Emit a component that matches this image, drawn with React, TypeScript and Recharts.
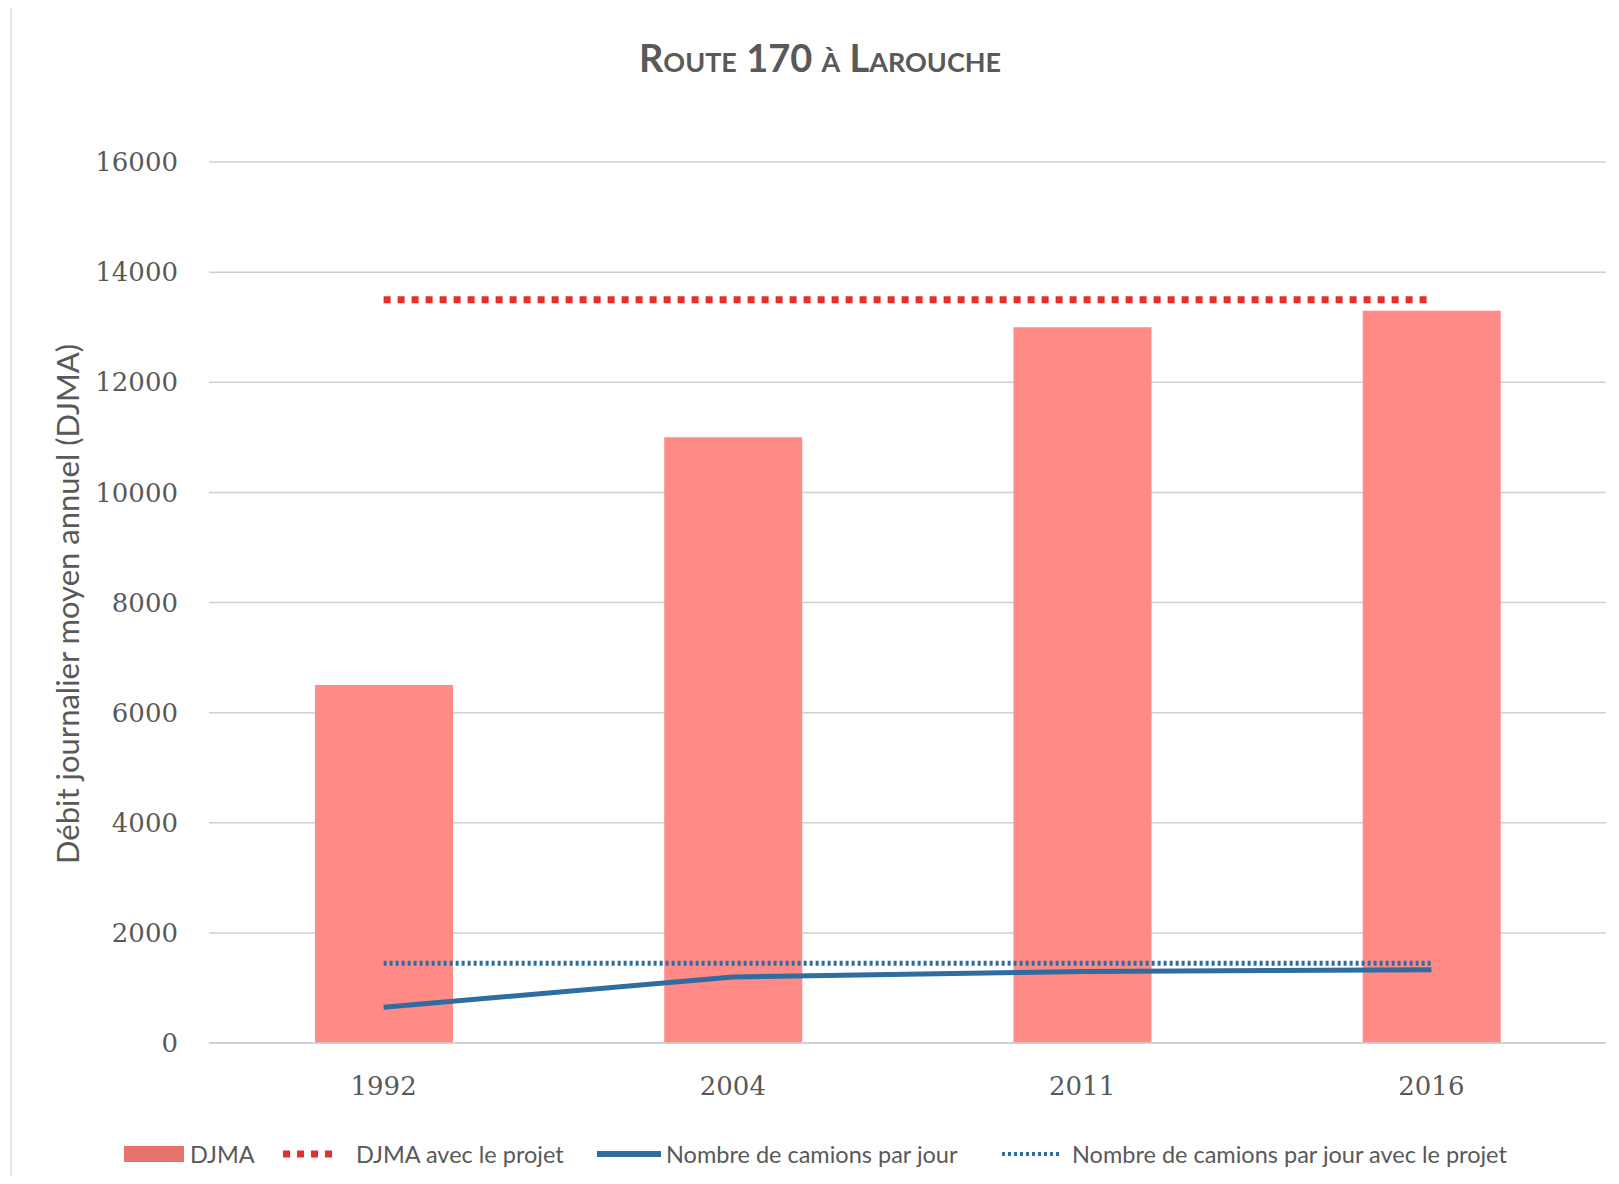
import React from "react";
import {
  ComposedChart,
  Bar,
  Line,
  XAxis,
  YAxis,
  CartesianGrid,
} from "recharts";

// valeurs
const years = ["1992", "2004", "2011", "2016"];
const djma = [6500, 11000, 13000, 13300];
const djmaProjet = [13500, 13500, 13500, 13500];
const camions = [650, 1200, 1300, 1330];
const camionsProjet = [1450, 1450, 1450, 1450];
const yTicks = [0, 2000, 4000, 6000, 8000, 10000, 12000, 14000, 16000];

const data = years.map((year, i) => ({
  year,
  djma: djma[i],
  djmaProjet: djmaProjet[i],
  camions: camions[i],
  camionsProjet: camionsProjet[i],
}));

const BAR = "#ff8a86";
const RED = "#e3302b";
const BLUE = "#2f6ca0";
const TXT = "#595959";

const W = 1619;
const H = 1184;

function LegendIcon({ kind }: { kind: string }) {
  if (kind === "bar")
    return (
      <svg width={60} height={18}>
        <rect x={0} y={1} width={60} height={16} fill="#e8736e" />
      </svg>
    );
  if (kind === "redDots")
    return (
      <svg width={56} height={18}>
        <line x1={0} y1={9} x2={56} y2={9} stroke={RED} strokeWidth={7} strokeDasharray="7 7" />
      </svg>
    );
  if (kind === "blueLine")
    return (
      <svg width={64} height={18}>
        <line x1={0} y1={9} x2={64} y2={9} stroke={BLUE} strokeWidth={6} />
      </svg>
    );
  return (
    <svg width={60} height={18}>
      <line x1={0} y1={9} x2={60} y2={9} stroke={BLUE} strokeWidth={4} strokeDasharray="3 3" />
    </svg>
  );
}

const legendItems = [
  { label: "DJMA", kind: "bar", left: 124, gap: 6 },
  { label: "DJMA avec le projet", kind: "redDots", left: 283, gap: 17 },
  { label: "Nombre de camions par jour", kind: "blueLine", left: 597, gap: 5 },
  { label: "Nombre de camions par jour avec le projet", kind: "blueDots", left: 1002, gap: 10 },
];

export default function App() {
  return (
    <div
      style={{
        position: "relative",
        width: W,
        height: H,
        margin: -8,
        background: "#fff",
        fontFamily: "Lato, sans-serif",
      }}
    >
      <div
        style={{
          position: "absolute",
          left: 10,
          top: 0,
          bottom: 0,
          borderLeft: "2px solid #e6e6e6",
        }}
      />
      <div
        style={{
          position: "absolute",
          top: 34,
          left: 0,
          width: 1640,
          textAlign: "center",
          fontSize: 38,
          fontWeight: 700,
          fontVariant: "small-caps",
          color: TXT,
        }}
      >
        Route 170 à Larouche
      </div>

      <ComposedChart
        width={W}
        height={H}
        data={data}
        margin={{ top: 162, right: 13, bottom: 111, left: 0 }}
        barCategoryGap={0}
      >
        <CartesianGrid vertical={false} stroke="#cfcfcf" strokeWidth={1.5} />
        <XAxis
          dataKey="year"
          height={30}
          axisLine={{ stroke: "#cfcfcf", strokeWidth: 1.5 }}
          tickLine={false}
          tickSize={0}
          tickMargin={34}
          tick={{ fill: TXT, fontSize: 26, fontFamily: "DejaVu Serif" }}
        />
        <YAxis
          width={209}
          domain={[0, 16000]}
          ticks={yTicks}
          axisLine={false}
          tickLine={false}
          tickSize={0}
          tickMargin={31}
          tick={{ fill: TXT, fontSize: 26, fontFamily: "DejaVu Serif" }}
          label={{
            content: () => (
              <text
                x={67}
                y={604}
                transform="rotate(-90 67 604)"
                textAnchor="middle"
                dominantBaseline="central"
                fill={TXT}
                fontSize={31}
                fontFamily="Lato, sans-serif"
              >
                Débit journalier moyen annuel (DJMA)
              </text>
            ),
          }}
        />
        <Bar dataKey="djma" name="DJMA" fill={BAR} barSize={138} isAnimationActive={false} />
        <Line
          dataKey="djmaProjet"
          name="DJMA avec le projet"
          stroke={RED}
          strokeWidth={7}
          strokeDasharray="7 7"
          dot={false}
          activeDot={false}
          isAnimationActive={false}
        />
        <Line
          dataKey="camions"
          name="Nombre de camions par jour"
          stroke={BLUE}
          strokeWidth={5}
          dot={false}
          activeDot={false}
          type="linear"
          isAnimationActive={false}
        />
        <Line
          dataKey="camionsProjet"
          name="Nombre de camions par jour avec le projet"
          stroke={BLUE}
          strokeWidth={5}
          strokeDasharray="3 3"
          dot={false}
          activeDot={false}
          isAnimationActive={false}
        />
      </ComposedChart>

      {legendItems.map((it) => (
        <div
          key={it.label}
          style={{
            position: "absolute",
            left: it.left,
            top: 1140,
            display: "flex",
            alignItems: "center",
            gap: it.gap,
            fontSize: 23.5,
            color: TXT,
            whiteSpace: "nowrap",
          }}
        >
          <LegendIcon kind={it.kind} />
          <span>{it.label}</span>
        </div>
      ))}
    </div>
  );
}
